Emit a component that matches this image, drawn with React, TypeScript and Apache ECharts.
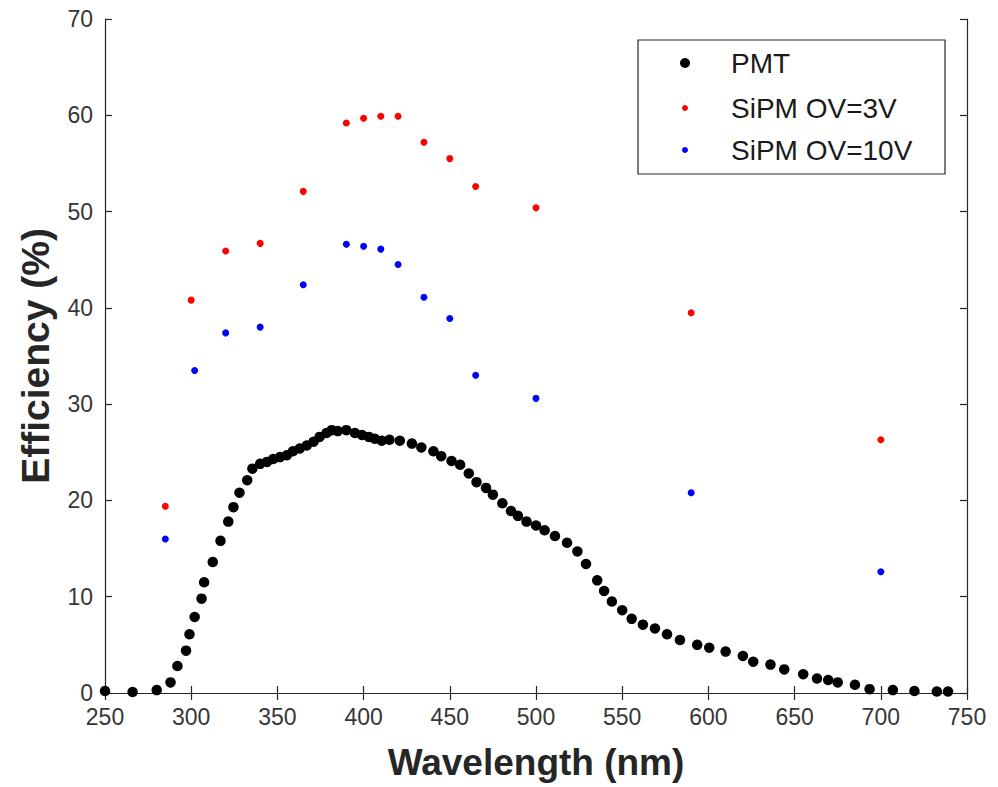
import React, { useEffect, useRef } from "react";
import * as echarts from "echarts";

const xTicks = { min: 250, max: 750, interval: 50 };
const yTicks = { min: 0, max: 70, interval: 10 };

const seriesNames = ["PMT", "SiPM OV=3V", "SiPM OV=10V"];

const pmt: [number, number][] = [
  [250, 0.2], [266, 0.1], [280, 0.3], [288, 1.1], [292, 2.8], [297, 4.4], [299, 6.1],
  [302, 7.9], [306, 9.8], [307.5, 11.5], [312.5, 13.6], [317, 15.8], [321.5, 17.8],
  [324.5, 19.3], [328, 20.8], [332.5, 22.1], [335.5, 23.3], [340, 23.8], [344, 24.0],
  [347.5, 24.3], [351.5, 24.5], [355.5, 24.7], [359, 25.1], [363, 25.4], [367, 25.7],
  [371, 26.1], [374.5, 26.6], [378.5, 27.0], [381.5, 27.3], [385, 27.2], [390, 27.3],
  [395, 27.0], [399, 26.8], [403, 26.6], [406.5, 26.4], [410.5, 26.2], [415, 26.3],
  [421, 26.2], [428, 25.9], [433.5, 25.5], [440.5, 25.1], [445, 24.6], [451, 24.1],
  [456, 23.7], [461, 22.8], [465.5, 21.9], [471, 21.3], [475, 20.6], [480.5, 19.7],
  [485.5, 18.9], [489.5, 18.4], [494.5, 17.8], [500, 17.4], [505, 16.9], [511, 16.3],
  [518, 15.6], [524, 14.7], [529, 13.4], [535.5, 11.7], [539.5, 10.6], [544, 9.5],
  [550, 8.6], [555.5, 7.7], [562, 7.1], [569, 6.7], [576, 6.1], [583.5, 5.5],
  [593.5, 5.0], [600.5, 4.7], [610, 4.3], [620, 3.85], [626, 3.25], [636, 2.95],
  [644, 2.45], [655, 1.95], [663, 1.5], [669.5, 1.35], [675, 1.1], [685, 0.85],
  [693.5, 0.4], [707, 0.3], [719.5, 0.2], [732.5, 0.15], [739, 0.15],
];

const sipm3V: [number, number][] = [
  [285, 19.4], [300, 40.8], [320, 45.9], [340, 46.7], [365, 52.1], [390, 59.2],
  [400, 59.7], [410, 59.9], [420, 59.9], [435, 57.2], [450, 55.5], [465, 52.6],
  [500, 50.4], [590, 39.5], [700, 26.3],
];

const sipm10V: [number, number][] = [
  [285, 16.0], [302, 33.5], [320, 37.4], [340, 38.0], [365, 42.4], [390, 46.6],
  [400, 46.4], [410, 46.1], [420, 44.5], [435, 41.1], [450, 38.9], [465, 33.0],
  [500, 30.6], [590, 20.8], [700, 12.6],
];

const colors = ["#000000", "#ff0000", "#0000ff"];
const markerSizes = [10.5, 7, 7];
const legendMarkerSizes = [10, 6, 6];

const FONT = "'Liberation Sans', Arial, Helvetica, sans-serif";
const AXIS_COLOR = "#262626";
const LABEL_COLOR = "#363636";

export default function App() {
  const ref = useRef<HTMLDivElement>(null);

  useEffect(() => {
    if (!ref.current) return;
    const chart = echarts.init(ref.current, null, { renderer: "svg" });

    const axisLine = { show: true, lineStyle: { color: AXIS_COLOR, width: 1.2 } };
    const axisTick = { show: true, inside: true, length: 7, lineStyle: { color: AXIS_COLOR, width: 1.2 } };

    const legendLeft = 638;
    const legendTop = 40;
    const rowY = [63, 108, 150];
    const legendGraphics: any[] = [
      {
        type: "rect",
        shape: { x: legendLeft, y: legendTop, width: 307, height: 134 },
        style: { fill: "#ffffff", stroke: AXIS_COLOR, lineWidth: 1.2 },
        z: 100,
      },
    ];
    seriesNames.forEach((name, i) => {
      legendGraphics.push({
        type: "circle",
        shape: { cx: 685, cy: rowY[i], r: legendMarkerSizes[i] / 2 },
        style: { fill: colors[i] },
        z: 101,
      });
      legendGraphics.push({
        type: "text",
        x: 731,
        y: rowY[i],
        style: {
          text: name,
          fill: "#1a1a1a",
          font: `28px ${FONT}`,
          verticalAlign: "middle",
          align: "left",
        },
        z: 101,
      });
    });

    const datasets = [pmt, sipm3V, sipm10V];

    chart.setOption({
      animation: false,
      backgroundColor: "#ffffff",
      grid: { left: 105, right: 31, top: 19, bottom: 94, containLabel: false },
      xAxis: [
        {
          type: "value",
          min: xTicks.min,
          max: xTicks.max,
          interval: xTicks.interval,
          position: "bottom",
          axisLine,
          axisTick,
          splitLine: { show: false },
          axisLabel: { color: LABEL_COLOR, fontSize: 23, fontFamily: FONT, margin: 12 },
          name: "Wavelength (nm)",
          nameLocation: "middle",
          nameGap: 51,
          nameTextStyle: { color: AXIS_COLOR, fontSize: 37, fontWeight: "bold", fontFamily: FONT },
        },
        {
          type: "value",
          min: xTicks.min,
          max: xTicks.max,
          interval: xTicks.interval,
          position: "top",
          axisLine,
          axisTick,
          splitLine: { show: false },
          axisLabel: { show: false },
        },
      ],
      yAxis: [
        {
          type: "value",
          min: yTicks.min,
          max: yTicks.max,
          interval: yTicks.interval,
          position: "left",
          axisLine,
          axisTick,
          splitLine: { show: false },
          axisLabel: { color: LABEL_COLOR, fontSize: 23, fontFamily: FONT, margin: 12 },
          name: "Efficiency (%)",
          nameLocation: "middle",
          nameGap: 50,
          nameTextStyle: { color: AXIS_COLOR, fontSize: 39, fontWeight: "bold", fontFamily: FONT },
        },
        {
          type: "value",
          min: yTicks.min,
          max: yTicks.max,
          interval: yTicks.interval,
          position: "right",
          axisLine,
          axisTick,
          splitLine: { show: false },
          axisLabel: { show: false },
        },
      ],
      series: datasets.map((d, i) => ({
        name: seriesNames[i],
        type: "scatter",
        data: d,
        symbol: "circle",
        symbolSize: markerSizes[i],
        itemStyle: { color: colors[i], opacity: 1 },
        xAxisIndex: 0,
        yAxisIndex: 0,
        z: 3 - i,
      })),
      graphic: legendGraphics,
    });

    return () => chart.dispose();
  }, []);

  return <div ref={ref} style={{ width: 998, height: 787, position: "absolute", left: 0, top: 0 }} />;
}
